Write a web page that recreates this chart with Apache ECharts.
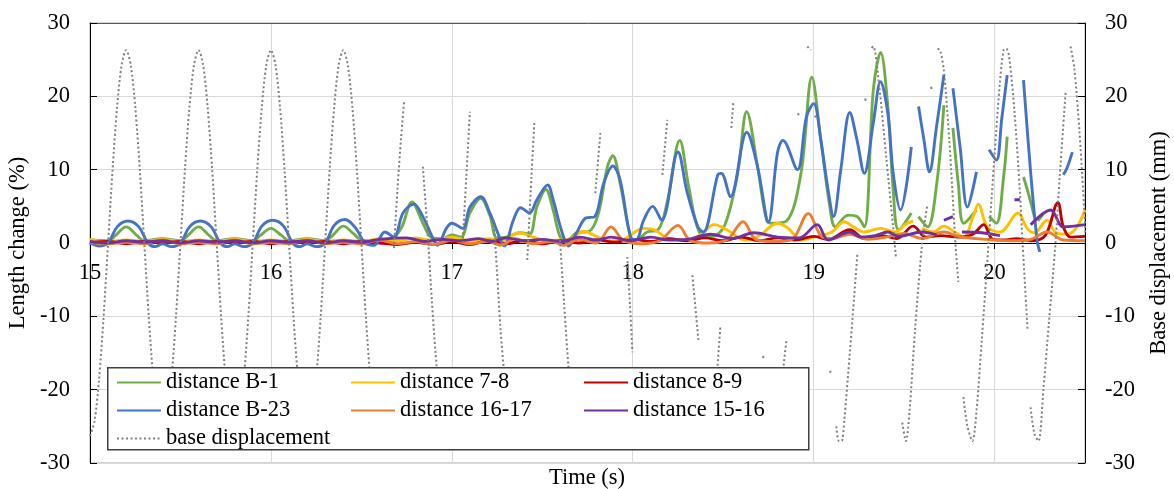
<!DOCTYPE html>
<html>
<head>
<meta charset="utf-8">
<script src="https://cdn.jsdelivr.net/npm/echarts@6/dist/echarts.min.js"></script>
<style>html,body{margin:0;padding:0;background:#fff;}#c{width:1174px;height:489px;}</style>
</head>
<body>
<div id="c"></div>
<script>
const xTicks = [15, 16, 17, 18, 19, 20];
const legendCol1 = ['distance B-1', 'distance B-23', 'base displacement'];
const legendCol2 = ['distance 7-8', 'distance 16-17'];
const legendCol3 = ['distance 8-9', 'distance 15-16'];

const dataB1 = [[15.00,0.4],[15.10,0.3],[15.14,1.0],[15.20,2.2],[15.26,1.0],[15.30,0.3],[15.40,0.6],[15.50,0.3],[15.54,1.0],[15.60,2.2],[15.66,1.0],[15.70,0.3],[15.80,0.6],[15.90,0.3],[15.94,1.0],[16.00,2.0],[16.06,1.0],[16.10,0.3],[16.20,0.6],[16.30,0.3],[16.34,1.0],[16.40,2.3],[16.46,1.2],[16.50,0.4],[16.58,0.3],[16.66,0.5],[16.72,2.0],[16.78,5.6],[16.84,2.7],[16.89,0.7],[16.95,0.6],[17.00,1.1],[17.05,0.8],[17.10,4.1],[17.16,6.1],[17.21,3.8],[17.25,0.7],[17.30,0.8],[17.38,1.4],[17.43,1.2],[17.47,4.9],[17.52,7.3],[17.56,4.5],[17.60,0.8],[17.64,0.4],[17.69,1.4],[17.76,1.6],[17.81,4.0],[17.86,10.4],[17.89,11.9],[17.93,8.2],[17.99,0.7],[18.02,0.4],[18.08,1.5],[18.14,1.8],[18.19,5.5],[18.26,14.0],[18.31,7.6],[18.37,1.4],[18.44,0.9],[18.51,2.5],[18.58,9.5],[18.63,17.9],[18.69,10.4],[18.74,3.1],[18.77,2.7],[18.85,3.0],[18.93,9.5],[18.99,22.6],[19.04,14.0],[19.09,4.9],[19.12,2.2],[19.19,3.8],[19.24,3.6],[19.28,2.2],[19.33,20.9],[19.37,26.0],[19.41,18.6],[19.44,7.2],[19.47,1.8],[19.54,4.1],[19.56,null],[19.58,3.6],[19.63,2.2],[19.68,8.0],[19.72,18.8],[19.745,null],[19.77,15.7],[19.80,8.0],[19.83,2.7],[19.90,4.5],[19.935,null],[19.97,3.6],[20.01,2.7],[20.05,9.0],[20.07,14.5],[20.11,null],[20.16,9.0],[20.19,6.5],[20.22,3.6],[20.23,null],[20.24,3.0],[20.27,4.0]];

const dataB23 = [[15.00,0.0],[15.05,-0.4],[15.10,0.0],[15.15,2.2],[15.21,3.0],[15.27,2.2],[15.32,0.0],[15.36,-0.5],[15.40,-0.1],[15.45,-0.5],[15.50,0.0],[15.55,2.2],[15.61,3.0],[15.67,2.2],[15.72,0.0],[15.76,-0.5],[15.80,-0.1],[15.85,-0.5],[15.90,0.0],[15.95,2.3],[16.01,3.1],[16.07,2.3],[16.12,0.0],[16.16,-0.5],[16.20,-0.1],[16.25,-0.5],[16.30,0.0],[16.35,2.4],[16.41,3.2],[16.47,2.0],[16.52,0.0],[16.57,-0.3],[16.63,1.5],[16.68,0.8],[16.73,4.1],[16.79,5.3],[16.84,3.6],[16.90,0.4],[16.92,-0.3],[16.97,2.0],[17.00,2.7],[17.06,2.0],[17.10,4.9],[17.16,6.3],[17.21,4.1],[17.27,0.4],[17.29,-0.4],[17.34,3.1],[17.38,4.8],[17.43,4.1],[17.47,5.9],[17.53,7.9],[17.56,5.9],[17.61,1.4],[17.645,-0.4],[17.69,1.4],[17.74,3.4],[17.79,3.6],[17.84,8.2],[17.89,10.5],[17.93,8.6],[17.99,0.7],[18.02,0.5],[18.06,3.1],[18.11,5.0],[18.16,3.1],[18.25,12.4],[18.30,7.0],[18.36,2.2],[18.39,1.5],[18.47,9.3],[18.49,9.5],[18.54,6.3],[18.63,15.1],[18.69,10.4],[18.75,2.9],[18.80,12.3],[18.83,14.0],[18.91,10.0],[18.96,17.2],[19.00,19.0],[19.04,14.0],[19.08,7.2],[19.11,3.6],[19.15,10.0],[19.20,17.8],[19.24,14.0],[19.28,9.5],[19.33,16.4],[19.37,22.0],[19.41,17.7],[19.44,9.5],[19.48,4.5],[19.54,13.1],[19.56,null],[19.58,18.6],[19.61,14.0],[19.64,9.7],[19.68,16.0],[19.72,22.9],[19.745,null],[19.77,21.1],[19.81,13.0],[19.85,4.9],[19.90,9.7],[19.935,null],[19.97,12.7],[20.01,11.3],[20.04,17.0],[20.07,22.9],[20.11,null],[20.16,22.2],[20.20,9.5],[20.235,0.4],[20.25,-1.2],[20.30,null],[20.38,9.3],[20.40,10.2],[20.43,12.4]];

const data78 = [[15.00,0.5],[15.10,0.2],[15.20,0.4],[15.30,0.2],[15.40,0.5],[15.50,0.2],[15.60,0.4],[15.70,0.2],[15.80,0.5],[15.90,0.2],[16.00,0.4],[16.10,0.2],[16.20,0.5],[16.30,0.2],[16.40,0.4],[16.50,0.2],[16.60,0.6],[16.70,0.3],[16.80,0.7],[16.90,0.3],[17.00,0.8],[17.10,0.3],[17.20,0.6],[17.28,0.3],[17.37,1.4],[17.45,0.8],[17.52,0.3],[17.60,0.4],[17.66,0.6],[17.73,1.6],[17.80,0.9],[17.88,0.3],[17.95,0.5],[18.06,2.0],[18.12,1.8],[18.20,0.6],[18.30,0.4],[18.38,1.2],[18.45,2.5],[18.52,1.8],[18.62,0.4],[18.70,1.0],[18.80,2.7],[18.86,2.0],[18.93,0.4],[19.00,0.8],[19.10,1.5],[19.17,2.9],[19.22,2.2],[19.28,1.5],[19.37,2.0],[19.45,1.5],[19.51,2.6],[19.55,3.0],[19.58,null],[19.60,2.0],[19.66,1.5],[19.72,2.3],[19.78,1.5],[19.83,0.8],[19.88,3.5],[19.91,5.3],[19.96,2.2],[20.03,1.5],[20.13,4.1],[20.18,2.0],[20.22,1.4],[20.29,3.1],[20.34,1.4],[20.40,1.2],[20.45,2.0],[20.50,4.5]];

const data89 = [[15.00,0.0],[15.10,0.2],[15.20,-0.1],[15.30,0.2],[15.40,0.0],[15.50,0.2],[15.60,-0.1],[15.70,0.2],[15.80,0.0],[15.90,0.2],[16.00,-0.1],[16.10,0.2],[16.20,0.0],[16.30,0.2],[16.40,-0.1],[16.50,0.2],[16.60,0.0],[16.70,-0.2],[16.80,0.1],[16.90,-0.2],[17.00,0.2],[17.10,-0.2],[17.20,0.3],[17.30,-0.1],[17.40,0.3],[17.50,-0.1],[17.60,0.3],[17.70,0.0],[17.80,0.4],[17.90,0.1],[18.00,0.5],[18.10,0.2],[18.20,0.6],[18.30,0.3],[18.40,0.7],[18.50,0.3],[18.60,0.8],[18.70,0.3],[18.80,0.7],[18.90,0.4],[19.00,0.9],[19.08,0.5],[19.20,1.8],[19.28,0.6],[19.38,1.0],[19.46,0.6],[19.55,2.3],[19.62,0.8],[19.70,1.0],[19.80,0.8],[19.88,1.2],[19.94,2.5],[19.99,0.5],[20.05,0.4],[20.12,0.6],[20.20,0.3],[20.28,1.0],[20.35,5.5],[20.38,2.2],[20.42,0.8],[20.50,0.9]];

const data1617 = [[15.00,0.1],[15.10,-0.1],[15.20,0.1],[15.30,-0.1],[15.40,0.4],[15.50,-0.1],[15.60,0.1],[15.70,-0.1],[15.80,0.4],[15.90,-0.1],[16.00,0.1],[16.10,-0.1],[16.20,0.4],[16.30,-0.1],[16.40,0.1],[16.50,-0.1],[16.60,0.4],[16.70,-0.1],[16.80,0.2],[16.90,-0.2],[17.00,0.4],[17.10,-0.1],[17.20,0.2],[17.27,-0.3],[17.35,0.6],[17.45,-0.1],[17.55,0.2],[17.62,-0.3],[17.70,0.5],[17.80,0.0],[17.88,2.2],[17.95,0.3],[18.05,-0.1],[18.15,0.3],[18.25,2.4],[18.32,0.3],[18.42,0.0],[18.52,0.4],[18.61,2.9],[18.68,0.5],[18.78,0.2],[18.88,0.5],[18.97,4.0],[19.04,1.0],[19.10,0.6],[19.20,1.2],[19.30,0.5],[19.40,0.8],[19.50,1.3],[19.60,0.6],[19.72,1.5],[19.80,0.9],[19.90,0.6],[20.00,0.4],[20.10,0.3],[20.20,0.5],[20.29,1.5],[20.38,0.4],[20.50,0.3]];

const data1516 = [[15.00,0.2],[15.10,0.0],[15.20,0.3],[15.30,0.1],[15.40,0.3],[15.50,0.0],[15.60,0.3],[15.70,0.1],[15.80,0.3],[15.90,0.0],[16.00,0.3],[16.10,0.1],[16.20,0.3],[16.30,0.0],[16.40,0.3],[16.50,0.1],[16.60,0.5],[16.75,0.7],[16.85,0.2],[16.95,0.5],[17.05,0.3],[17.15,0.6],[17.22,0.2],[17.30,0.7],[17.40,0.3],[17.50,0.5],[17.60,0.2],[17.71,0.8],[17.80,0.4],[17.88,0.8],[17.99,0.3],[18.10,0.8],[18.20,0.4],[18.30,0.5],[18.43,1.2],[18.55,0.6],[18.67,1.4],[18.80,0.8],[18.92,0.7],[19.02,2.5],[19.08,0.4],[19.20,1.5],[19.26,0.8],[19.34,1.0],[19.41,1.5],[19.47,0.9],[19.60,1.5],[19.68,1.1],[19.70,null],[19.72,3.1],[19.77,3.6],[19.79,null],[19.82,1.5],[19.93,1.4],[20.03,1.0],[20.07,null],[20.11,5.9],[20.14,5.9],[20.16,null],[20.20,2.5],[20.31,4.5],[20.38,2.2],[20.50,2.5]];

const dataBase = [[15.000,-26.3],[15.025,-24.3],[15.050,-18.6],[15.075,-10.1],[15.100,0],[15.125,10.1],[15.150,18.6],[15.175,24.3],[15.200,26.3],[15.225,24.3],[15.250,18.6],[15.275,10.1],[15.300,0],[15.325,-10.1],[15.350,-18.6],[15.375,-24.3],[15.400,-26.3],[15.425,-24.3],[15.450,-18.6],[15.475,-10.1],[15.500,0],[15.525,10.1],[15.550,18.6],[15.575,24.3],[15.600,26.3],[15.625,24.3],[15.650,18.6],[15.675,10.1],[15.700,0],[15.725,-10.1],[15.750,-18.6],[15.775,-24.3],[15.800,-26.3],[15.825,-24.3],[15.850,-18.6],[15.875,-10.1],[15.900,0],[15.925,10.1],[15.950,18.6],[15.975,24.3],[16.000,26.3],[16.025,24.3],[16.050,18.6],[16.075,10.1],[16.100,0],[16.125,-10.1],[16.150,-18.6],[16.175,-24.3],[16.200,-26.3],[16.225,-24.3],[16.250,-18.6],[16.275,-10.1],[16.300,0],[16.325,10.1],[16.350,18.6],[16.375,24.3],[16.400,26.3],[16.425,24.3],[16.450,18.6],[16.475,10.1],[16.500,0],[16.525,-10.1],[16.550,-18.6],[16.575,-24.3],[16.60,null],
[16.68,-0.7],[16.70,7.5],[16.72,14.5],[16.737,19.5],[16.76,null],
[16.84,10.4],[16.87,0],[16.89,-8],[16.91,-15],[16.93,-21],[16.95,null],
[17.06,0],[17.08,9],[17.10,17.9],[17.15,null],
[17.23,3.1],[17.24,0],[17.27,-12],[17.29,-18],[17.31,-23],[17.33,null],
[17.417,-2.3],[17.44,9],[17.456,16.4],[17.50,null],
[17.598,0.4],[17.62,-8],[17.645,-17],[17.66,-21],[17.70,null],
[17.793,6.8],[17.821,15],[17.90,null],
[17.97,-1.9],[17.985,-8.5],[17.998,-14.9],[18.05,null],
[18.164,9.3],[18.191,16.8],[18.25,null],
[18.33,-4.4],[18.363,-13.2],[18.40,null],
[18.455,-21],[18.468,-17],[18.485,-11.2],[18.50,null],
[18.545,15.7],[18.556,19.1],[18.60,null],
[18.720,-15.7],[18.724,-15.3],[18.75,null],
[18.82,-21],[18.833,-17],[18.85,-13.2],[18.88,null],
[18.914,17.7],[18.918,17.3],[18.94,null],
[18.965,26.8],[18.985,26.3],[18.995,null],
[19.008,17.4],[19.012,17.0],[19.05,null],
[19.091,-17.7],[19.095,-17.3],[19.11,null],
[19.125,-25],[19.14,-27],[19.155,-27],[19.17,-24],[19.20,-15],[19.225,-7],[19.242,-1.4],[19.26,null],
[19.285,19.7],[19.289,19.3],[19.30,null],
[19.32,26.6],[19.33,26.8],[19.36,22],[19.40,12],[19.44,2],[19.455,-2],[19.47,null],
[19.49,-24.5],[19.51,-27],[19.53,-23],[19.56,-12],[19.60,0],[19.627,5],[19.64,null],
[19.649,21.3],[19.653,20.9],[19.665,null],
[19.685,26.5],[19.70,26.2],[19.72,23.5],[19.75,14],[19.785,-0.5],[19.80,-5.3],[19.81,null],
[19.828,-21],[19.85,-25],[19.878,-27],[19.90,-23],[19.93,-13],[19.967,0],[20.00,12],[20.03,22],[20.05,26.3],[20.065,26.5],[20.08,25.5],[20.11,18],[20.14,7],[20.155,0],[20.183,-12],[20.19,null],
[20.199,-22.4],[20.22,-26],[20.243,-27],[20.27,-20],[20.30,-11],[20.337,0],[20.36,9],[20.393,20.6],[20.405,null],
[20.42,26.8],[20.44,24],[20.47,15],[20.503,1.4]];

const FONT = 'Liberation Serif';
const prep = arr => arr.map(p => [p[0], p[1] === null ? '-' : p[1]]);

function lineSeries(name, data, color, yIdx, extra) {
  return Object.assign({
    name: name, type: 'line', data: prep(data), xAxisIndex: 0, yAxisIndex: yIdx,
    symbol: 'none', showSymbol: false, smooth: 0.35, connectNulls: false,
    lineStyle: { color: color, width: 2.9 }, itemStyle: { color: color },
    emphasis: { disabled: true }, silent: true
  }, extra || {});
}

const chart = echarts.init(document.getElementById('c'), null, { renderer: 'canvas' });
const legendBase = {
  orient: 'vertical', itemWidth: 44, itemHeight: 14, itemGap: 5, padding: 0,
  selectedMode: false, z: 12,
  itemStyle: { opacity: 0, borderWidth: 0 },
  textStyle: { fontFamily: FONT, fontSize: 22.5, color: '#000', lineHeight: 22 }
};
chart.setOption({
  animation: false,
  backgroundColor: '#fff',
  textStyle: { fontFamily: FONT },
  grid: { left: 90, right: 89, top: 23, bottom: 26, show: true, borderColor: '#a6a6a6', borderWidth: 1,
    containLabel: false, outerBoundsMode: 'none' },
  title: { text: 'Time (s)', left: 'center', top: 467, padding: 0,
    textStyle: { fontFamily: FONT, fontSize: 22.5, fontWeight: 'normal', color: '#000' } },
  legend: [
    Object.assign({}, legendBase, { data: legendCol1, left: 116, top: 371 }),
    Object.assign({}, legendBase, { data: legendCol2, left: 350, top: 371 }),
    Object.assign({}, legendBase, { data: legendCol3, left: 583, top: 371 })
  ],
  graphic: [{
    type: 'rect', left: 107, top: 367, z: 10,
    shape: { width: 701, height: 82 },
    style: { fill: '#fff', stroke: '#404040', lineWidth: 1.5 }
  }],
  xAxis: [{
    type: 'value', min: 15, max: 20.5, interval: 1, position: 'bottom', offset: -220,
    axisLine: { show: true, onZero: false, lineStyle: { color: '#000', width: 1 } },
    axisTick: { show: true, length: 6, lineStyle: { color: '#000' } },
    axisLabel: { margin: 19, fontFamily: FONT, fontSize: 22.5, color: '#000',
      formatter: v => (xTicks.indexOf(v) >= 0 ? String(v) : '') },
    splitLine: { show: true, lineStyle: { color: '#d9d9d9', width: 1 } }
  }, {
    type: 'value', min: 15, max: 20.5, position: 'top',
    axisLine: { show: true, onZero: false, lineStyle: { color: '#595959', width: 1 } },
    axisTick: { show: false }, axisLabel: { show: false }, splitLine: { show: false }
  }],
  yAxis: [{
    type: 'value', min: -30, max: 30, interval: 10, position: 'left',
    axisLine: { show: true, onZero: false, lineStyle: { color: '#000', width: 1 } },
    axisTick: { show: true, inside: true, length: 7, lineStyle: { color: '#000' } },
    axisLabel: { margin: 20, fontFamily: FONT, fontSize: 22.5, color: '#000' },
    splitLine: { show: true, lineStyle: { color: '#d9d9d9', width: 1 } },
    name: 'Length change (%)', nameLocation: 'middle', nameGap: 51, nameRotate: 90,
    nameTextStyle: { fontFamily: FONT, fontSize: 22.5, color: '#000' }
  }, {
    type: 'value', min: -30, max: 30, interval: 10, position: 'right',
    axisLine: { show: true, onZero: false, lineStyle: { color: '#000', width: 1 } },
    axisTick: { show: true, inside: true, length: 7, lineStyle: { color: '#000' } },
    axisLabel: { margin: 20, fontFamily: FONT, fontSize: 22.5, color: '#000' },
    splitLine: { show: false },
    name: 'Base displacement (mm)', nameLocation: 'middle', nameGap: 63, nameRotate: 90,
    nameTextStyle: { fontFamily: FONT, fontSize: 22.5, color: '#000' }
  }],
  series: [
    lineSeries('distance B-1', dataB1, '#70AD47', 0),
    lineSeries('distance 7-8', data78, '#FFC000', 0),
    lineSeries('distance 8-9', data89, '#C00000', 0),
    lineSeries('distance B-23', dataB23, '#4472C4', 0),
    lineSeries('distance 16-17', data1617, '#ED7D31', 0),
    lineSeries('distance 15-16', data1516, '#7030A0', 0),
    lineSeries('base displacement', dataBase, '#7f7f7f', 1, {
      smooth: 0.3,
      lineStyle: { color: '#7f7f7f', width: 2, type: [2, 2.5] }
    })
  ]
});
</script>
</body>
</html>
